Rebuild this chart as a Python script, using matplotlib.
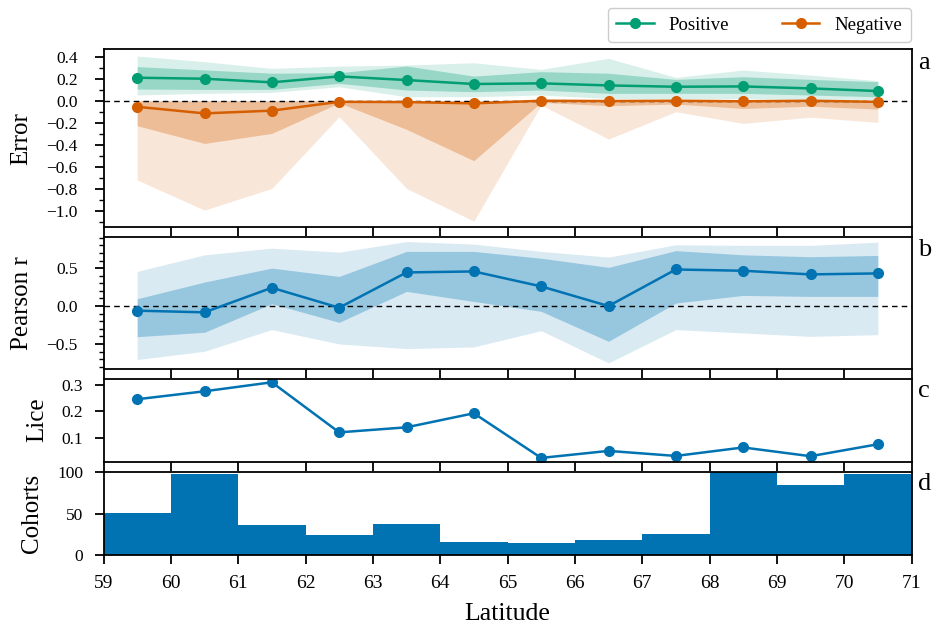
import numpy as np
import matplotlib
matplotlib.use("Agg")
import matplotlib.pyplot as plt
from matplotlib.ticker import AutoMinorLocator, MultipleLocator

plt.rcParams["font.family"] = ["Liberation Serif", "DejaVu Serif"]
plt.rcParams["mathtext.fontset"] = "stix"
plt.rcParams["axes.linewidth"] = 1.3
plt.rcParams["xtick.major.width"] = 1.3
plt.rcParams["ytick.major.width"] = 1.3
plt.rcParams["ytick.minor.width"] = 1.0

# latitude bin centres and edges
lat_centres = [59.5, 60.5, 61.5, 62.5, 63.5, 64.5, 65.5, 66.5, 67.5, 68.5, 69.5, 70.5]
lat_edges = [59, 60, 61, 62, 63, 64, 65, 66, 67, 68, 69, 70]

# error of positive deviations: median, inner and outer percentile bands
pos_median = [0.209, 0.200, 0.167, 0.221, 0.188, 0.152, 0.158, 0.139, 0.127, 0.130, 0.112, 0.088]
pos_inner_lo = [0.106, 0.103, 0.103, 0.158, 0.097, 0.082, 0.097, 0.067, 0.067, 0.067, 0.052, 0.036]
pos_inner_hi = [0.310, 0.280, 0.250, 0.255, 0.315, 0.224, 0.264, 0.250, 0.194, 0.218, 0.194, 0.173]
pos_outer_lo = [0.052, 0.067, 0.076, 0.127, 0.036, 0.036, 0.052, 0.020, 0.020, 0.020, 0.012, 0.012]
pos_outer_hi = [0.406, 0.355, 0.294, 0.315, 0.324, 0.345, 0.285, 0.385, 0.212, 0.279, 0.233, 0.182]

# error of negative deviations
neg_median = [-0.055, -0.115, -0.090, -0.010, -0.012, -0.024, 0.000, -0.003, 0.000, -0.005, 0.000, -0.010]
neg_inner_lo = [-0.227, -0.388, -0.297, -0.020, -0.260, -0.545, -0.015, -0.045, -0.030, -0.070, -0.050, -0.076]
neg_inner_hi = [0.0, 0.0, 0.0, 0.0, 0.0, 0.0, 0.0, 0.0, 0.0, 0.0, 0.0, 0.0]
neg_outer_lo = [-0.720, -0.994, -0.797, -0.145, -0.797, -1.094, -0.040, -0.348, -0.100, -0.206, -0.150, -0.197]
neg_outer_hi = [0.0, 0.0, 0.0, 0.0, 0.0, 0.0, 0.0, 0.0, 0.0, 0.0, 0.0, 0.0]

# Pearson correlation
r_median = [-0.061, -0.083, 0.241, -0.022, 0.443, 0.456, 0.259, 0.000, 0.482, 0.465, 0.417, 0.430]
r_inner_lo = [-0.404, -0.346, 0.030, -0.215, 0.193, 0.060, -0.070, -0.465, 0.040, 0.140, 0.127, 0.127]
r_inner_hi = [0.096, 0.316, 0.500, 0.390, 0.720, 0.720, 0.630, 0.510, 0.730, 0.675, 0.650, 0.667]
r_outer_lo = [-0.706, -0.596, -0.311, -0.500, -0.561, -0.539, -0.325, -0.750, -0.311, -0.355, -0.400, -0.377]
r_outer_hi = [0.456, 0.675, 0.763, 0.710, 0.850, 0.816, 0.720, 0.645, 0.807, 0.800, 0.800, 0.842]

# mean lice per bin
lice = [0.246, 0.276, 0.310, 0.121, 0.140, 0.193, 0.0245, 0.051, 0.032, 0.064, 0.031, 0.076]

# number of cohorts per bin
cohorts = [51, 97, 36, 24, 38, 16, 15, 18, 25, 100, 84, 97]

BLUE = "#0173b2"
GREEN = "#029e73"
ORANGE = "#d55e00"

fig = plt.figure(figsize=(9.39, 6.27), dpi=100)
W, H = 939.0, 627.0
left_px, right_px = 103.5, 911.5


def panel(top_px, bottom_px):
    return fig.add_axes([left_px / W, 1 - bottom_px / H,
                         (right_px - left_px) / W, (bottom_px - top_px) / H])


ax_a = panel(49.0, 227.3)
ax_b = panel(237.0, 369.0)
ax_c = panel(378.5, 461.7)
ax_d = panel(471.7, 555.3)
axes = [ax_a, ax_b, ax_c, ax_d]

ytick_fs = 12.5
xtick_fs = 14
label_fs = 18
ylabel_pad = 10

# panel a: error
ax_a.fill_between(lat_centres, pos_outer_lo, pos_outer_hi, color=GREEN, alpha=0.15, lw=0)
ax_a.fill_between(lat_centres, pos_inner_lo, pos_inner_hi, color=GREEN, alpha=0.30, lw=0)
ax_a.fill_between(lat_centres, neg_outer_lo, neg_outer_hi, color=ORANGE, alpha=0.15, lw=0)
ax_a.fill_between(lat_centres, neg_inner_lo, neg_inner_hi, color=ORANGE, alpha=0.30, lw=0)
ax_a.axhline(0, color="black", lw=1.0, ls=(0, (4, 3)), zorder=3)
l_pos, = ax_a.plot(lat_centres, pos_median, "-o", color=GREEN, lw=1.8, ms=7, label="Positive", zorder=4)
l_neg, = ax_a.plot(lat_centres, neg_median, "-o", color=ORANGE, lw=1.8, ms=7, label="Negative", zorder=4)
ax_a.set_ylim(-1.15, 0.47)
ax_a.yaxis.set_major_locator(MultipleLocator(0.2))
ax_a.yaxis.set_minor_locator(AutoMinorLocator(2))
ax_a.set_ylabel("Error", fontsize=label_fs, labelpad=ylabel_pad)

# panel b: correlation
ax_b.fill_between(lat_centres, r_outer_lo, r_outer_hi, color=BLUE, alpha=0.15, lw=0)
ax_b.fill_between(lat_centres, r_inner_lo, r_inner_hi, color=BLUE, alpha=0.30, lw=0)
ax_b.axhline(0, color="black", lw=1.0, ls=(0, (4, 3)), zorder=3)
ax_b.plot(lat_centres, r_median, "-o", color=BLUE, lw=1.8, ms=7, zorder=4)
ax_b.set_ylim(-0.83, 0.91)
ax_b.yaxis.set_major_locator(MultipleLocator(0.5))
ax_b.yaxis.set_minor_locator(AutoMinorLocator(5))
ax_b.set_ylabel("Pearson r", fontsize=label_fs, labelpad=ylabel_pad)

# panel c: lice
ax_c.plot(lat_centres, lice, "-o", color=BLUE, lw=1.8, ms=7)
ax_c.yaxis.set_major_locator(MultipleLocator(0.1))
ax_c.set_ylabel("Lice", fontsize=label_fs, labelpad=ylabel_pad)

# panel d: cohorts
ax_d.bar(lat_edges, cohorts, width=1.0, align="edge", color=BLUE, lw=0)
ax_d.set_ylim(0, 100)
ax_d.yaxis.set_major_locator(MultipleLocator(50))
ax_d.set_ylabel("Cohorts", fontsize=label_fs, labelpad=ylabel_pad)
ax_d.set_xlabel("Latitude", fontsize=18.5, labelpad=8)

for ax, letter in zip(axes, "abcd"):
    ax.set_xlim(59, 71)
    ax.xaxis.set_major_locator(MultipleLocator(1))
    ax.tick_params(axis="x", top=False, bottom=True, direction="out", length=6.8,
                   labelsize=xtick_fs, pad=7.5)
    ax.tick_params(axis="y", which="major", direction="out", length=6.5, labelsize=ytick_fs,
                   pad=12 if ax in (ax_a, ax_b) else 8)
    ax.tick_params(axis="y", which="minor", direction="out", length=3.5)
    if ax is not ax_d:
        ax.tick_params(axis="x", labelbottom=False)
    ax.text(1.008, 0.985, letter, transform=ax.transAxes, ha="left", va="top", fontsize=19)

fig.legend(handles=[l_pos, l_neg], loc="upper right",
           bbox_to_anchor=(910.5 / W, 1 - 8 / H), borderaxespad=0, ncol=2, fontsize=13.5,
           frameon=True, fancybox=True, framealpha=1, edgecolor="#cccccc",
           columnspacing=2.8, handlelength=2.0, borderpad=0.45)

fig.savefig("out.png", dpi=100)
